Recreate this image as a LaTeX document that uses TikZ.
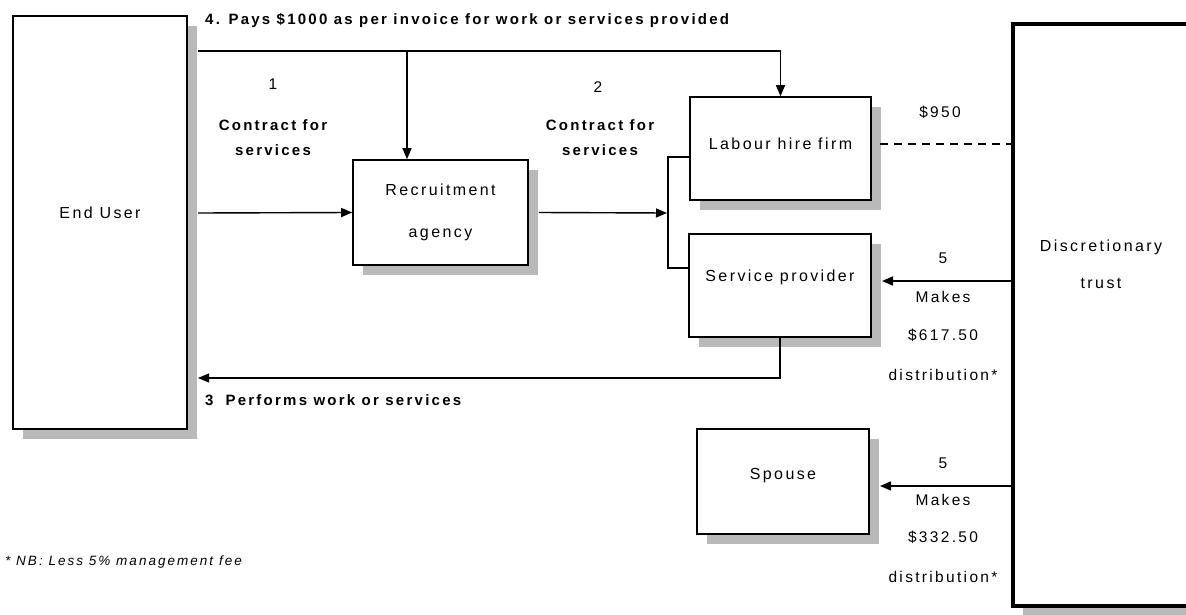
\documentclass[tikz,border=0pt]{standalone}
\usepackage{fontspec}
\setmainfont{Liberation Sans}[LetterSpace=15]
\usetikzlibrary{shadows,arrows.meta}
\begin{document}
\begin{tikzpicture}[x=1pt,y=-1pt,
  font=\fontsize{16}{19}\selectfont,
  box/.style={draw, line width=1.6pt, fill=white, inner sep=0pt,
    general shadow={shadow xshift=10pt, shadow yshift=-10pt, fill=gray!55}},
  conn/.style={line width=1.4pt},
  arr/.style={conn, -{Triangle[length=11pt,width=9pt]}},
  txt/.style={inner sep=0pt},
  btxt/.style={txt, font=\fontsize{15}{18}\selectfont\bfseries},
  ntxt/.style={txt, font=\fontsize{15.5}{18}\selectfont}]
\useasboundingbox (0,0) rectangle (1186,615);
\fill[white] (0,0) rectangle (1186,615);

% boxes
\node[box, minimum width=174pt, minimum height=413pt, text depth=19pt] (enduser) at (100,222.5) {End User};
\node[box, minimum width=175pt, minimum height=105pt, align=center] (recruit) at (440.5,212.5) {Recruitment\\[23pt]agency};
\node[box, minimum width=181pt, minimum height=103pt, text depth=10pt] (labour) at (780.5,148.5) {Labour hire firm};
\node[box, minimum width=182pt, minimum height=103pt, text depth=19pt] (service) at (780,285.5) {Service provider};
\node[box, minimum width=172pt, minimum height=105pt, text depth=15pt] (spouse) at (783,481.5) {Spouse};
\node[box, line width=4.5pt, minimum width=200pt, minimum height=582pt] (trust) at (1113,315) {};
\node[txt, align=center] (trusttxt) at (1101,264) {Discretionary\\[18pt]trust};

% helper coordinates
\coordinate (pstart) at (198,51);
\coordinate (pj) at (407,51);
\coordinate (a1) at (198,213);
\coordinate (br) at (667,213);
\coordinate (bt) at (668,157);
\coordinate (bb) at (668,268);
\coordinate (a3) at (198,378);
\coordinate (d1) at (880,144);
\coordinate (s1) at (882,281);
\coordinate (s2) at (880,486);

% connectors
\draw[arr] (pstart) -| (labour.north);
\draw[arr] (pj) -- (pj |- recruit.north);
\draw[arr] (a1) -- (recruit.west);
\draw[arr] ([xshift=10pt]recruit.east) -- (br);
\draw[conn] (bt -| labour.west) -- (bt) -- (bb) -- (bb -| service.west);
\draw[arr] (service.south) |- (a3);
\draw[conn, dashed, dash pattern=on 8pt off 6pt] (d1) -- (d1 -| trust.west);
\draw[arr] (s1 -| trust.west) -- (s1);
\draw[arr] (s2 -| trust.west) -- (s2);

% labels
\node[btxt, anchor=west] (pays) at (205,20) {4. Pays \$1000 as per invoice for work or services provided};
\node[ntxt] (n1) at (273,84) {1};
\node[btxt] (c1a) at (273,125) {Contract for};
\node[btxt] (c1b) at (273,150) {services};
\node[ntxt] (n2) at (598,87) {2};
\node[btxt] (c2a) at (600,125) {Contract for};
\node[btxt] (c2b) at (600,150) {services};
\node[ntxt] (l950) at (940,112) {\$950};
\node[ntxt] (n5a) at (943,258) {5};
\node[ntxt] (m5a) at (943,297) {Makes};
\node[ntxt] (v5a) at (943,335) {\$617.50};
\node[ntxt] (d5a) at (943,375) {distribution*};
\node[ntxt] (n5b) at (943,463) {5};
\node[ntxt] (m5b) at (943,500) {Makes};
\node[ntxt] (v5b) at (943,537) {\$332.50};
\node[ntxt] (d5b) at (943,577) {distribution*};
\node[btxt, anchor=west] (perf) at (205,400) {3\hspace{12pt}Performs work or services};
\node[txt, anchor=west, font=\fontsize{13.5}{16}\selectfont\itshape] (foot) at (5,562) {* NB: Less 5\% management fee};
\end{tikzpicture}
\end{document}
